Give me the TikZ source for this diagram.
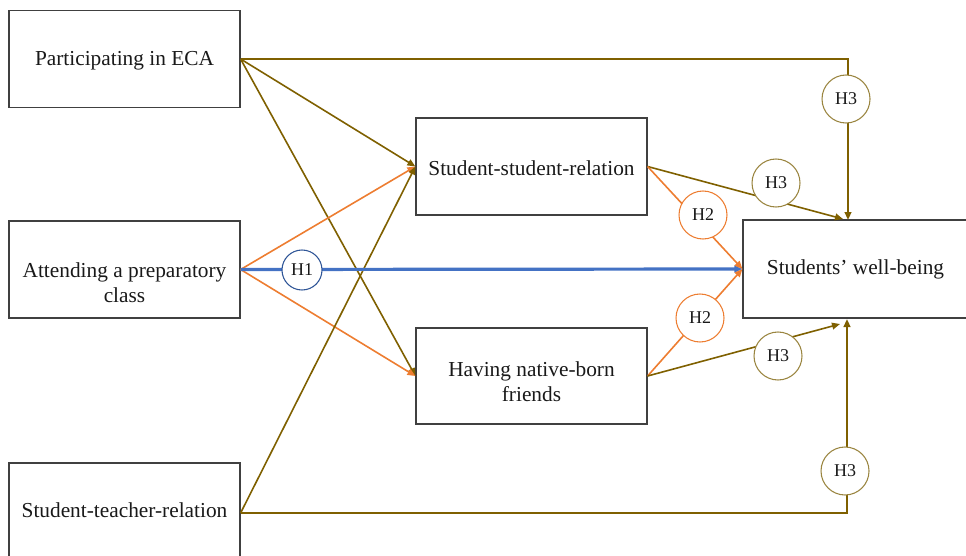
\documentclass[tikz,border=0pt]{standalone}
\usepackage{fontspec}
\setmainfont{Liberation Serif}
\usetikzlibrary{arrows.meta,calc}
\definecolor{olv}{HTML}{7F6000}
\definecolor{olvc}{HTML}{9A8540}
\definecolor{org}{HTML}{ED7D31}
\definecolor{blu}{HTML}{4472C4}
\definecolor{dblu}{HTML}{2F5597}
\definecolor{boxgray}{HTML}{404040}
\begin{document}
\begin{tikzpicture}[x=0.75pt,y=-0.75pt,
  box/.style={draw=boxgray,line width=0.9pt,rectangle,inner sep=0pt,minimum width=173.25pt,minimum height=72.75pt},
  lbl/.style={font=\fontsize{16}{18.5}\selectfont,align=center,text=black!90,inner sep=0pt},
  hyp/.style={circle,fill=white,line width=0.8pt,minimum size=36pt,inner sep=0pt,font=\fontsize{13.5}{15}\selectfont,text=black!90},
  tip/.style={-{Triangle[length=6pt,width=5pt]}},
  olvthin/.style={draw=olv,line width=1.2pt},
  olvthick/.style={draw=olv,line width=2.2pt},
  orgthin/.style={draw=org,line width=1.2pt},
  bluthick/.style={draw=blu,line width=2.4pt}]
\useasboundingbox (0,0) rectangle (966,556);
\begin{scope}
\clip (0,0) rectangle (966,556);
% boxes
\node[box] (eca) at (124.5,59) {};
\node[box] (att) at (124.5,269.5) {};
\node[box,minimum height=75pt] (st) at (124.5,513) {};
\node[box] (ss) at (531.5,166.5) {};
\node[box,minimum height=72pt] (hnb) at (531.5,376) {};
\node[box,minimum width=168.75pt,minimum height=73.5pt] (wb) at (855.5,269) {};
% texts
\node[lbl] (ecaT) at (124.5,61) {Participating in ECA};
\node[lbl] (attT) at (124.5,283) {Attending a preparatory\\class};
\node[lbl] (stT) at (124.5,510) {Student-teacher-relation};
\node[lbl] (ssT) at (531.5,168) {Student-student-relation};
\node[lbl] (hnbT) at (531.5,382) {Having native-born\\friends};
\node[lbl] (wbT) at (855.5,269) {Students’ well-being};
% anchor coordinates
\coordinate (wbtop) at (848,220);
\coordinate (wbtop2) at (843,219);
\coordinate (wbbot) at (847,319);
\coordinate (wbbot2) at (840,324);
% connectors
\draw[olvthick,tip] (eca.east) -- (eca.east -| wbtop) -- (wbtop);
\draw[olvthin,tip] (eca.east) -- (ss.west);
\draw[olvthin,tip] (eca.east) -- (hnb.west);
\draw[orgthin,tip] (att.east) -- (ss.west);
\draw[orgthin,tip] (att.east) -- (hnb.west);
\draw[olvthin,tip] (st.east) -- (ss.west);
\draw[olvthick,tip] (st.east) -- (st.east -| wbbot) -- (wbbot);
\draw[bluthick,tip] (att.east) -- (wb.west);
\draw[olvthin,tip] (ss.east) -- (wbtop2);
\draw[orgthin,tip] (ss.east) -- (wb.west);
\draw[orgthin,tip] (hnb.east) -- (wb.west);
\draw[olvthin,tip] (hnb.east) -- (wbbot2);
% hypothesis circles
\node[hyp,draw=dblu,minimum size=30pt] (h1) at (302,270) {H1};
\node[hyp,draw=org] (h2a) at (703,215) {H2};
\node[hyp,draw=org] (h2b) at (700,318) {H2};
\node[hyp,draw=olvc] (h3a) at (846,99) {H3};
\node[hyp,draw=olvc] (h3b) at (776,183) {H3};
\node[hyp,draw=olvc] (h3c) at (778,356) {H3};
\node[hyp,draw=olvc] (h3d) at (845,471) {H3};
\end{scope}
\end{tikzpicture}
\end{document}
